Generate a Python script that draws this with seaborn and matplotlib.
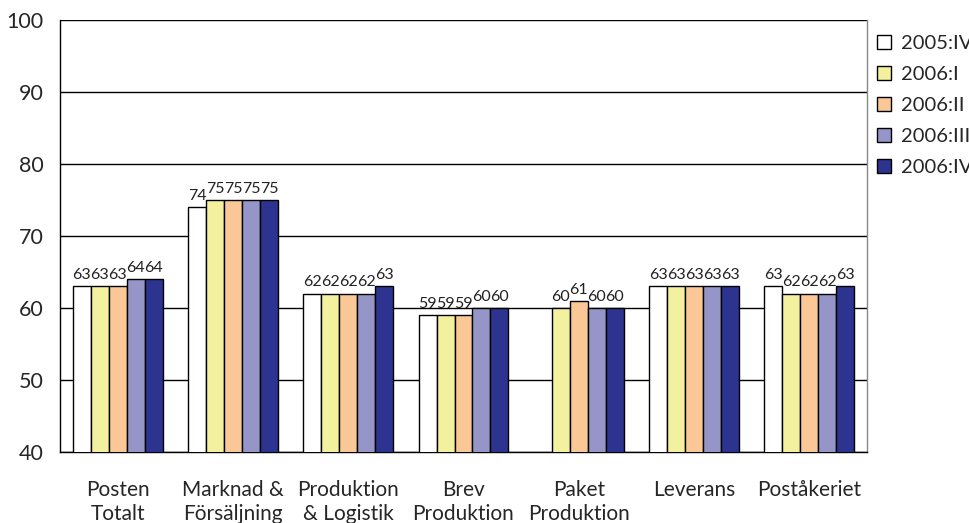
import numpy as np
import pandas as pd
import matplotlib
matplotlib.use("Agg")
import matplotlib.pyplot as plt
import seaborn as sns

categories = ["Posten\nTotalt", "Marknad &\nFörsäljning", "Produktion\n& Logistik",
              "Brev\nProduktion", "Paket\nProduktion", "Leverans", "Poståkeriet"]
periods = ["2005:IV", "2006:I", "2006:II", "2006:III", "2006:IV"]

q2005_4 = [63, 74, 62, 59, np.nan, 63, 63]
q2006_1 = [63, 75, 62, 59, 60, 63, 62]
q2006_2 = [63, 75, 62, 59, 61, 63, 62]
q2006_3 = [64, 75, 62, 60, 60, 63, 62]
q2006_4 = [64, 75, 63, 60, 60, 63, 63]

colors = ["#FFFFFF", "#F3F09E", "#F9C896", "#9595C8", "#2C3490"]

series = [q2005_4, q2006_1, q2006_2, q2006_3, q2006_4]
df = pd.DataFrame({
    "category": np.repeat([categories], len(periods), axis=0).ravel(),
    "period": np.repeat(periods, len(categories)),
    "value": np.concatenate(series),
})

sns.set_style("white")
plt.rcParams["font.family"] = ["Lato", "DejaVu Sans"]

fig = plt.figure(figsize=(9.7, 5.23), dpi=100)
ax = fig.add_axes([60 / 970, 1 - 452 / 523, (867 - 60) / 970, (452 - 20) / 523])

sns.barplot(data=df, x="category", y="value", hue="period", order=categories,
            hue_order=periods, palette=colors, width=0.78, gap=0,
            edgecolor="black", linewidth=1.0, saturation=1, ax=ax,
            legend=True, zorder=3)

# value labels above each drawn bar
for cont in ax.containers:
    for bar in cont:
        if bar is None:
            continue
        h = bar.get_height()
        if np.isnan(h):
            continue
        ax.annotate(f"{int(round(h))}", (bar.get_x() + bar.get_width() / 2, h),
                    xytext=(0, 3), textcoords="offset points",
                    ha="center", va="bottom", fontsize=11.5, color="#222222")

ax.set_ylim(40, 100)
ax.set_xlim(-0.5, len(categories) - 0.5)
ax.set_yticks(range(40, 101, 10))
ax.yaxis.grid(True, color="black", linewidth=1.0, zorder=0)
ax.set_axisbelow(True)

# boundary ticks between groups, labels at group centres
ax.set_xticks(np.arange(-0.5, len(categories), 1.0))
ax.set_xticklabels([])
ax.set_xticks(np.arange(len(categories)), minor=True)
ax.set_xticklabels(categories, minor=True, fontsize=15, linespacing=1.25)
ax.tick_params(axis="x", which="major", length=7, width=1, direction="out", color="#444444")
ax.tick_params(axis="x", which="minor", length=0, pad=20)
ax.tick_params(axis="y", length=7, width=1, direction="out", labelsize=15.5, color="#444444", pad=5)
ax.set_xlabel("")
ax.set_ylabel("")

for side in ["left", "bottom"]:
    ax.spines[side].set_color("black")
    ax.spines[side].set_linewidth(1.0)
ax.spines["top"].set_visible(False)
ax.spines["right"].set_color("#888888")
ax.spines["right"].set_linewidth(1.0)

leg = ax.legend(loc="upper left", bbox_to_anchor=(877 / 970, 1 - 35 / 523),
                bbox_transform=fig.transFigure, frameon=False, fontsize=14.5,
                handlelength=0.72, handleheight=0.72, handletextpad=0.45,
                labelspacing=0.68, borderaxespad=0, borderpad=0)

fig.savefig("out.png", dpi=100, facecolor="white")
